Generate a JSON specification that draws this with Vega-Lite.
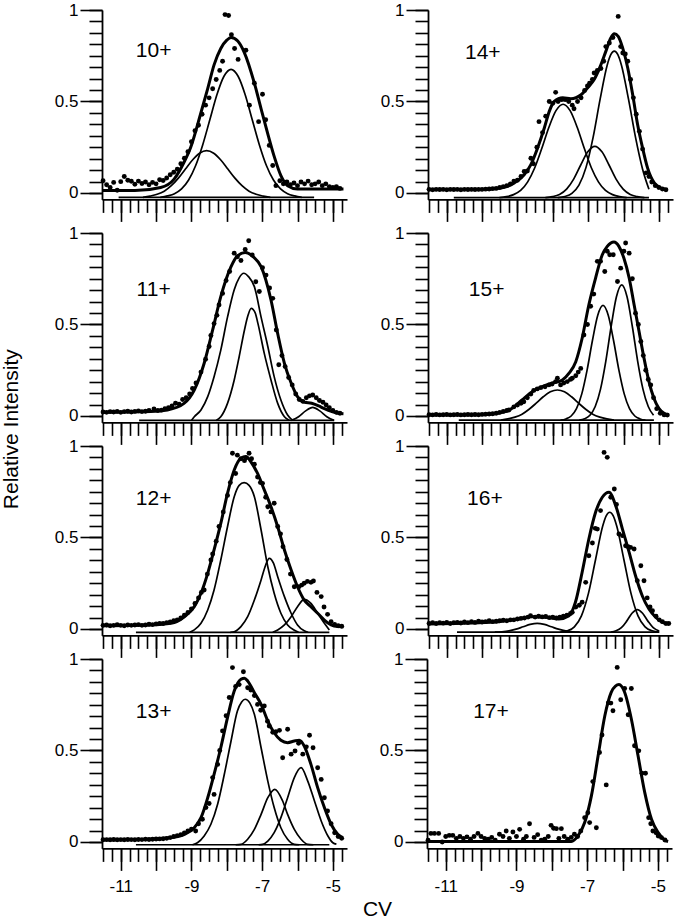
{
"$schema": "https://vega.github.io/schema/vega-lite/v6.json",
"background": "white",
"padding": {"left": 1, "top": 1, "right": 0, "bottom": 0},
"title": {"text": "Relative Intensity", "orient": "left", "anchor": "middle", "fontSize": 21, "fontWeight": "normal", "font": "Liberation Sans", "color": "black", "offset": 32, "dx": 31},
"config": {
  "view": {"stroke": null},
  "font": "Liberation Sans",
  "axis": {"domainColor": "black", "tickColor": "black", "labelColor": "black", "titleColor": "black", "grid": false, "labelFontSize": 17, "labelFont": "Liberation Sans", "titleFont": "Liberation Sans", "titleFontWeight": "normal", "titleFontSize": 21, "tickWidth": 1.6, "domainWidth": 1.8, "labelFlush": false}
},
"datasets": {
"pts": [
{"p":"10+","x":-11.5,"y":0.067},{"p":"10+","x":-11.4,"y":0.045},{"p":"10+","x":-11.3,"y":0.03},{"p":"10+","x":-11.2,"y":0.058},{"p":"10+","x":-11.1,"y":0.015},{"p":"10+","x":-11.0,"y":0.062},{"p":"10+","x":-10.9,"y":0.09},{"p":"10+","x":-10.8,"y":0.07},{"p":"10+","x":-10.7,"y":0.064},{"p":"10+","x":-10.6,"y":0.048},{"p":"10+","x":-10.5,"y":0.065},{"p":"10+","x":-10.4,"y":0.052},{"p":"10+","x":-10.3,"y":0.06},{"p":"10+","x":-10.2,"y":0.045},{"p":"10+","x":-10.1,"y":0.058},{"p":"10+","x":-10.0,"y":0.05},{"p":"10+","x":-9.9,"y":0.072},{"p":"10+","x":-9.8,"y":0.068},{"p":"10+","x":-9.7,"y":0.082},{"p":"10+","x":-9.6,"y":0.1},{"p":"10+","x":-9.5,"y":0.113},{"p":"10+","x":-9.4,"y":0.13},{"p":"10+","x":-9.3,"y":0.16},{"p":"10+","x":-9.2,"y":0.19},{"p":"10+","x":-9.1,"y":0.225},{"p":"10+","x":-9.0,"y":0.28},{"p":"10+","x":-8.9,"y":0.34},{"p":"10+","x":-8.8,"y":0.37},{"p":"10+","x":-8.7,"y":0.43},{"p":"10+","x":-8.6,"y":0.48},{"p":"10+","x":-8.5,"y":0.52},{"p":"10+","x":-8.4,"y":0.57},{"p":"10+","x":-8.3,"y":0.62},{"p":"10+","x":-8.2,"y":0.67},{"p":"10+","x":-8.12,"y":0.72},{"p":"10+","x":-8.05,"y":0.975},{"p":"10+","x":-7.95,"y":0.97},{"p":"10+","x":-7.87,"y":0.865},{"p":"10+","x":-7.78,"y":0.79},{"p":"10+","x":-7.68,"y":0.73},{"p":"10+","x":-7.46,"y":0.78},{"p":"10+","x":-7.36,"y":0.48},{"p":"10+","x":-7.22,"y":0.6},{"p":"10+","x":-7.1,"y":0.39},{"p":"10+","x":-6.99,"y":0.54},{"p":"10+","x":-6.9,"y":0.4},{"p":"10+","x":-6.8,"y":0.26},{"p":"10+","x":-6.7,"y":0.15},{"p":"10+","x":-6.61,"y":0.04},{"p":"10+","x":-6.5,"y":0.067},{"p":"10+","x":-6.4,"y":0.05},{"p":"10+","x":-6.3,"y":0.06},{"p":"10+","x":-6.2,"y":0.045},{"p":"10+","x":-6.1,"y":0.055},{"p":"10+","x":-6.0,"y":0.04},{"p":"10+","x":-5.9,"y":0.06},{"p":"10+","x":-5.8,"y":0.05},{"p":"10+","x":-5.7,"y":0.065},{"p":"10+","x":-5.6,"y":0.045},{"p":"10+","x":-5.5,"y":0.05},{"p":"10+","x":-5.4,"y":0.06},{"p":"10+","x":-5.3,"y":0.04},{"p":"10+","x":-5.2,"y":0.05},{"p":"10+","x":-5.1,"y":0.035},{"p":"10+","x":-5.0,"y":0.03},{"p":"10+","x":-4.9,"y":0.035},{"p":"10+","x":-4.8,"y":0.025},
{"p":"11+","x":-11.5,"y":0.022},{"p":"11+","x":-11.4,"y":0.02},{"p":"11+","x":-11.3,"y":0.024},{"p":"11+","x":-11.2,"y":0.022},{"p":"11+","x":-11.1,"y":0.025},{"p":"11+","x":-11.0,"y":0.02},{"p":"11+","x":-10.9,"y":0.024},{"p":"11+","x":-10.8,"y":0.026},{"p":"11+","x":-10.7,"y":0.022},{"p":"11+","x":-10.6,"y":0.025},{"p":"11+","x":-10.5,"y":0.028},{"p":"11+","x":-10.4,"y":0.024},{"p":"11+","x":-10.3,"y":0.026},{"p":"11+","x":-10.2,"y":0.03},{"p":"11+","x":-10.06,"y":0.038},{"p":"11+","x":-9.95,"y":0.03},{"p":"11+","x":-9.85,"y":0.032},{"p":"11+","x":-9.75,"y":0.04},{"p":"11+","x":-9.65,"y":0.045},{"p":"11+","x":-9.55,"y":0.055},{"p":"11+","x":-9.45,"y":0.07},{"p":"11+","x":-9.35,"y":0.065},{"p":"11+","x":-9.25,"y":0.09},{"p":"11+","x":-9.15,"y":0.1},{"p":"11+","x":-9.05,"y":0.12},{"p":"11+","x":-8.97,"y":0.15},{"p":"11+","x":-8.87,"y":0.18},{"p":"11+","x":-8.73,"y":0.24},{"p":"11+","x":-8.6,"y":0.31},{"p":"11+","x":-8.5,"y":0.38},{"p":"11+","x":-8.45,"y":0.44},{"p":"11+","x":-8.36,"y":0.505},{"p":"11+","x":-8.28,"y":0.55},{"p":"11+","x":-8.22,"y":0.607},{"p":"11+","x":-8.12,"y":0.67},{"p":"11+","x":-8.02,"y":0.74},{"p":"11+","x":-7.92,"y":0.79},{"p":"11+","x":-7.79,"y":0.89},{"p":"11+","x":-7.7,"y":0.87},{"p":"11+","x":-7.6,"y":0.85},{"p":"11+","x":-7.48,"y":0.91},{"p":"11+","x":-7.38,"y":0.958},{"p":"11+","x":-7.28,"y":0.88},{"p":"11+","x":-7.18,"y":0.734},{"p":"11+","x":-7.08,"y":0.68},{"p":"11+","x":-6.99,"y":0.81},{"p":"11+","x":-6.89,"y":0.77},{"p":"11+","x":-6.79,"y":0.7},{"p":"11+","x":-6.7,"y":0.643},{"p":"11+","x":-6.6,"y":0.47},{"p":"11+","x":-6.53,"y":0.28},{"p":"11+","x":-6.44,"y":0.33},{"p":"11+","x":-6.35,"y":0.27},{"p":"11+","x":-6.25,"y":0.21},{"p":"11+","x":-6.15,"y":0.17},{"p":"11+","x":-6.05,"y":0.12},{"p":"11+","x":-5.95,"y":0.09},{"p":"11+","x":-5.85,"y":0.08},{"p":"11+","x":-5.75,"y":0.1},{"p":"11+","x":-5.66,"y":0.11},{"p":"11+","x":-5.57,"y":0.115},{"p":"11+","x":-5.47,"y":0.1},{"p":"11+","x":-5.38,"y":0.085},{"p":"11+","x":-5.28,"y":0.075},{"p":"11+","x":-5.19,"y":0.06},{"p":"11+","x":-5.1,"y":0.045},{"p":"11+","x":-5.0,"y":0.03},{"p":"11+","x":-4.9,"y":0.02},{"p":"11+","x":-4.8,"y":0.015},
{"p":"12+","x":-11.5,"y":0.02},{"p":"12+","x":-11.4,"y":0.022},{"p":"12+","x":-11.3,"y":0.018},{"p":"12+","x":-11.2,"y":0.02},{"p":"12+","x":-11.1,"y":0.024},{"p":"12+","x":-11.0,"y":0.02},{"p":"12+","x":-10.9,"y":0.018},{"p":"12+","x":-10.8,"y":0.022},{"p":"12+","x":-10.7,"y":0.02},{"p":"12+","x":-10.6,"y":0.022},{"p":"12+","x":-10.5,"y":0.024},{"p":"12+","x":-10.4,"y":0.02},{"p":"12+","x":-10.3,"y":0.022},{"p":"12+","x":-10.2,"y":0.026},{"p":"12+","x":-10.1,"y":0.024},{"p":"12+","x":-10.0,"y":0.028},{"p":"12+","x":-9.9,"y":0.03},{"p":"12+","x":-9.8,"y":0.03},{"p":"12+","x":-9.7,"y":0.035},{"p":"12+","x":-9.6,"y":0.038},{"p":"12+","x":-9.5,"y":0.045},{"p":"12+","x":-9.4,"y":0.05},{"p":"12+","x":-9.3,"y":0.06},{"p":"12+","x":-9.2,"y":0.075},{"p":"12+","x":-9.1,"y":0.09},{"p":"12+","x":-9.0,"y":0.11},{"p":"12+","x":-8.9,"y":0.14},{"p":"12+","x":-8.8,"y":0.17},{"p":"12+","x":-8.72,"y":0.2},{"p":"12+","x":-8.64,"y":0.213},{"p":"12+","x":-8.55,"y":0.3},{"p":"12+","x":-8.45,"y":0.377},{"p":"12+","x":-8.4,"y":0.41},{"p":"12+","x":-8.3,"y":0.48},{"p":"12+","x":-8.22,"y":0.56},{"p":"12+","x":-8.1,"y":0.64},{"p":"12+","x":-7.98,"y":0.73},{"p":"12+","x":-7.9,"y":0.8},{"p":"12+","x":-7.84,"y":0.96},{"p":"12+","x":-7.75,"y":0.85},{"p":"12+","x":-7.7,"y":0.95},{"p":"12+","x":-7.6,"y":0.93},{"p":"12+","x":-7.5,"y":0.92},{"p":"12+","x":-7.46,"y":0.935},{"p":"12+","x":-7.37,"y":0.96},{"p":"12+","x":-7.3,"y":0.93},{"p":"12+","x":-7.22,"y":0.9},{"p":"12+","x":-7.13,"y":0.83},{"p":"12+","x":-7.05,"y":0.8},{"p":"12+","x":-6.99,"y":0.796},{"p":"12+","x":-6.9,"y":0.72},{"p":"12+","x":-6.84,"y":0.668},{"p":"12+","x":-6.75,"y":0.64},{"p":"12+","x":-6.66,"y":0.687},{"p":"12+","x":-6.56,"y":0.56},{"p":"12+","x":-6.48,"y":0.52},{"p":"12+","x":-6.41,"y":0.45},{"p":"12+","x":-6.3,"y":0.38},{"p":"12+","x":-6.2,"y":0.3},{"p":"12+","x":-6.09,"y":0.231},{"p":"12+","x":-5.96,"y":0.231},{"p":"12+","x":-5.88,"y":0.24},{"p":"12+","x":-5.81,"y":0.25},{"p":"12+","x":-5.72,"y":0.26},{"p":"12+","x":-5.62,"y":0.255},{"p":"12+","x":-5.55,"y":0.262},{"p":"12+","x":-5.45,"y":0.2},{"p":"12+","x":-5.33,"y":0.177},{"p":"12+","x":-5.25,"y":0.12},{"p":"12+","x":-5.15,"y":0.08},{"p":"12+","x":-5.05,"y":0.04},{"p":"12+","x":-4.95,"y":0.025},{"p":"12+","x":-4.85,"y":0.018},{"p":"12+","x":-4.75,"y":0.015},
{"p":"13+","x":-11.5,"y":0.012},{"p":"13+","x":-11.4,"y":0.013},{"p":"13+","x":-11.3,"y":0.012},{"p":"13+","x":-11.2,"y":0.014},{"p":"13+","x":-11.1,"y":0.012},{"p":"13+","x":-11.0,"y":0.013},{"p":"13+","x":-10.9,"y":0.012},{"p":"13+","x":-10.8,"y":0.014},{"p":"13+","x":-10.7,"y":0.013},{"p":"13+","x":-10.6,"y":0.012},{"p":"13+","x":-10.5,"y":0.014},{"p":"13+","x":-10.4,"y":0.013},{"p":"13+","x":-10.3,"y":0.015},{"p":"13+","x":-10.2,"y":0.014},{"p":"13+","x":-10.1,"y":0.015},{"p":"13+","x":-10.0,"y":0.016},{"p":"13+","x":-9.9,"y":0.017},{"p":"13+","x":-9.8,"y":0.018},{"p":"13+","x":-9.7,"y":0.02},{"p":"13+","x":-9.6,"y":0.024},{"p":"13+","x":-9.5,"y":0.03},{"p":"13+","x":-9.4,"y":0.035},{"p":"13+","x":-9.3,"y":0.04},{"p":"13+","x":-9.2,"y":0.05},{"p":"13+","x":-9.1,"y":0.06},{"p":"13+","x":-9.0,"y":0.07},{"p":"13+","x":-8.88,"y":0.06},{"p":"13+","x":-8.8,"y":0.1},{"p":"13+","x":-8.69,"y":0.124},{"p":"13+","x":-8.59,"y":0.188},{"p":"13+","x":-8.5,"y":0.21},{"p":"13+","x":-8.4,"y":0.352},{"p":"13+","x":-8.36,"y":0.26},{"p":"13+","x":-8.26,"y":0.424},{"p":"13+","x":-8.2,"y":0.5},{"p":"13+","x":-8.12,"y":0.607},{"p":"13+","x":-8.02,"y":0.69},{"p":"13+","x":-7.93,"y":0.79},{"p":"13+","x":-7.84,"y":0.953},{"p":"13+","x":-7.75,"y":0.85},{"p":"13+","x":-7.65,"y":0.86},{"p":"13+","x":-7.53,"y":0.93},{"p":"13+","x":-7.41,"y":0.843},{"p":"13+","x":-7.32,"y":0.83},{"p":"13+","x":-7.22,"y":0.8},{"p":"13+","x":-7.13,"y":0.752},{"p":"13+","x":-7.04,"y":0.72},{"p":"13+","x":-6.94,"y":0.743},{"p":"13+","x":-6.85,"y":0.66},{"p":"13+","x":-6.8,"y":0.634},{"p":"13+","x":-6.7,"y":0.6},{"p":"13+","x":-6.61,"y":0.603},{"p":"13+","x":-6.51,"y":0.61},{"p":"13+","x":-6.42,"y":0.46},{"p":"13+","x":-6.28,"y":0.616},{"p":"13+","x":-6.18,"y":0.48},{"p":"13+","x":-6.07,"y":0.497},{"p":"13+","x":-5.97,"y":0.54},{"p":"13+","x":-5.85,"y":0.48},{"p":"13+","x":-5.75,"y":0.52},{"p":"13+","x":-5.66,"y":0.583},{"p":"13+","x":-5.56,"y":0.515},{"p":"13+","x":-5.43,"y":0.406},{"p":"13+","x":-5.33,"y":0.342},{"p":"13+","x":-5.24,"y":0.242},{"p":"13+","x":-5.15,"y":0.17},{"p":"13+","x":-5.05,"y":0.1},{"p":"13+","x":-4.95,"y":0.05},{"p":"13+","x":-4.85,"y":0.03},{"p":"13+","x":-4.75,"y":0.02},
{"p":"14+","x":-11.5,"y":0.02},{"p":"14+","x":-11.4,"y":0.018},{"p":"14+","x":-11.3,"y":0.02},{"p":"14+","x":-11.2,"y":0.019},{"p":"14+","x":-11.1,"y":0.02},{"p":"14+","x":-11.0,"y":0.018},{"p":"14+","x":-10.9,"y":0.02},{"p":"14+","x":-10.8,"y":0.019},{"p":"14+","x":-10.7,"y":0.02},{"p":"14+","x":-10.6,"y":0.018},{"p":"14+","x":-10.5,"y":0.02},{"p":"14+","x":-10.4,"y":0.019},{"p":"14+","x":-10.3,"y":0.02},{"p":"14+","x":-10.2,"y":0.019},{"p":"14+","x":-10.1,"y":0.02},{"p":"14+","x":-10.0,"y":0.02},{"p":"14+","x":-9.9,"y":0.021},{"p":"14+","x":-9.8,"y":0.022},{"p":"14+","x":-9.7,"y":0.024},{"p":"14+","x":-9.6,"y":0.025},{"p":"14+","x":-9.5,"y":0.03},{"p":"14+","x":-9.4,"y":0.035},{"p":"14+","x":-9.3,"y":0.04},{"p":"14+","x":-9.2,"y":0.05},{"p":"14+","x":-9.1,"y":0.065},{"p":"14+","x":-9.0,"y":0.07},{"p":"14+","x":-8.9,"y":0.09},{"p":"14+","x":-8.81,"y":0.118},{"p":"14+","x":-8.72,"y":0.12},{"p":"14+","x":-8.62,"y":0.19},{"p":"14+","x":-8.55,"y":0.16},{"p":"14+","x":-8.45,"y":0.25},{"p":"14+","x":-8.39,"y":0.39},{"p":"14+","x":-8.29,"y":0.33},{"p":"14+","x":-8.2,"y":0.42},{"p":"14+","x":-8.1,"y":0.5},{"p":"14+","x":-8.0,"y":0.49},{"p":"14+","x":-7.92,"y":0.55},{"p":"14+","x":-7.85,"y":0.5},{"p":"14+","x":-7.75,"y":0.51},{"p":"14+","x":-7.65,"y":0.51},{"p":"14+","x":-7.55,"y":0.5},{"p":"14+","x":-7.45,"y":0.48},{"p":"14+","x":-7.4,"y":0.46},{"p":"14+","x":-7.3,"y":0.5},{"p":"14+","x":-7.2,"y":0.52},{"p":"14+","x":-7.1,"y":0.56},{"p":"14+","x":-7.02,"y":0.585},{"p":"14+","x":-6.96,"y":0.6},{"p":"14+","x":-6.88,"y":0.62},{"p":"14+","x":-6.83,"y":0.656},{"p":"14+","x":-6.74,"y":0.67},{"p":"14+","x":-6.64,"y":0.68},{"p":"14+","x":-6.56,"y":0.72},{"p":"14+","x":-6.5,"y":0.8},{"p":"14+","x":-6.4,"y":0.82},{"p":"14+","x":-6.3,"y":0.85},{"p":"14+","x":-6.15,"y":0.965},{"p":"14+","x":-6.08,"y":0.8},{"p":"14+","x":-6.02,"y":0.765},{"p":"14+","x":-5.95,"y":0.76},{"p":"14+","x":-5.88,"y":0.72},{"p":"14+","x":-5.8,"y":0.62},{"p":"14+","x":-5.72,"y":0.52},{"p":"14+","x":-5.64,"y":0.43},{"p":"14+","x":-5.55,"y":0.337},{"p":"14+","x":-5.46,"y":0.24},{"p":"14+","x":-5.36,"y":0.11},{"p":"14+","x":-5.28,"y":0.09},{"p":"14+","x":-5.2,"y":0.06},{"p":"14+","x":-5.1,"y":0.04},{"p":"14+","x":-5.0,"y":0.03},{"p":"14+","x":-4.9,"y":0.022},{"p":"14+","x":-4.8,"y":0.018},
{"p":"15+","x":-11.5,"y":0.007},{"p":"15+","x":-11.4,"y":0.006},{"p":"15+","x":-11.3,"y":0.008},{"p":"15+","x":-11.2,"y":0.006},{"p":"15+","x":-11.1,"y":0.007},{"p":"15+","x":-11.0,"y":0.008},{"p":"15+","x":-10.9,"y":0.006},{"p":"15+","x":-10.8,"y":0.007},{"p":"15+","x":-10.7,"y":0.008},{"p":"15+","x":-10.6,"y":0.006},{"p":"15+","x":-10.5,"y":0.007},{"p":"15+","x":-10.4,"y":0.008},{"p":"15+","x":-10.3,"y":0.007},{"p":"15+","x":-10.2,"y":0.008},{"p":"15+","x":-10.1,"y":0.007},{"p":"15+","x":-10.0,"y":0.009},{"p":"15+","x":-9.9,"y":0.01},{"p":"15+","x":-9.8,"y":0.011},{"p":"15+","x":-9.7,"y":0.012},{"p":"15+","x":-9.6,"y":0.015},{"p":"15+","x":-9.5,"y":0.02},{"p":"15+","x":-9.4,"y":0.025},{"p":"15+","x":-9.3,"y":0.03},{"p":"15+","x":-9.24,"y":0.033},{"p":"15+","x":-9.1,"y":0.05},{"p":"15+","x":-9.0,"y":0.06},{"p":"15+","x":-8.9,"y":0.07},{"p":"15+","x":-8.82,"y":0.078},{"p":"15+","x":-8.72,"y":0.1},{"p":"15+","x":-8.62,"y":0.12},{"p":"15+","x":-8.54,"y":0.14},{"p":"15+","x":-8.44,"y":0.148},{"p":"15+","x":-8.34,"y":0.155},{"p":"15+","x":-8.22,"y":0.16},{"p":"15+","x":-8.11,"y":0.17},{"p":"15+","x":-8.02,"y":0.175},{"p":"15+","x":-7.92,"y":0.188},{"p":"15+","x":-7.87,"y":0.206},{"p":"15+","x":-7.78,"y":0.17},{"p":"15+","x":-7.69,"y":0.18},{"p":"15+","x":-7.59,"y":0.188},{"p":"15+","x":-7.5,"y":0.2},{"p":"15+","x":-7.45,"y":0.206},{"p":"15+","x":-7.35,"y":0.22},{"p":"15+","x":-7.28,"y":0.24},{"p":"15+","x":-7.21,"y":0.26},{"p":"15+","x":-7.12,"y":0.443},{"p":"15+","x":-7.02,"y":0.5},{"p":"15+","x":-6.93,"y":0.6},{"p":"15+","x":-6.84,"y":0.666},{"p":"15+","x":-6.74,"y":0.845},{"p":"15+","x":-6.65,"y":0.845},{"p":"15+","x":-6.53,"y":0.79},{"p":"15+","x":-6.46,"y":0.9},{"p":"15+","x":-6.39,"y":0.881},{"p":"15+","x":-6.29,"y":0.881},{"p":"15+","x":-6.17,"y":0.735},{"p":"15+","x":-6.08,"y":0.808},{"p":"15+","x":-5.99,"y":0.9},{"p":"15+","x":-5.94,"y":0.945},{"p":"15+","x":-5.84,"y":0.89},{"p":"15+","x":-5.75,"y":0.75},{"p":"15+","x":-5.66,"y":0.562},{"p":"15+","x":-5.58,"y":0.5},{"p":"15+","x":-5.51,"y":0.407},{"p":"15+","x":-5.44,"y":0.33},{"p":"15+","x":-5.37,"y":0.25},{"p":"15+","x":-5.3,"y":0.2},{"p":"15+","x":-5.23,"y":0.17},{"p":"15+","x":-5.15,"y":0.1},{"p":"15+","x":-5.06,"y":0.04},{"p":"15+","x":-4.96,"y":0.015},{"p":"15+","x":-4.85,"y":0.006},{"p":"15+","x":-4.76,"y":0.005},
{"p":"16+","x":-11.5,"y":0.03},{"p":"16+","x":-11.4,"y":0.035},{"p":"16+","x":-11.3,"y":0.03},{"p":"16+","x":-11.2,"y":0.035},{"p":"16+","x":-11.1,"y":0.032},{"p":"16+","x":-11.0,"y":0.036},{"p":"16+","x":-10.9,"y":0.03},{"p":"16+","x":-10.8,"y":0.034},{"p":"16+","x":-10.7,"y":0.036},{"p":"16+","x":-10.6,"y":0.033},{"p":"16+","x":-10.5,"y":0.038},{"p":"16+","x":-10.4,"y":0.035},{"p":"16+","x":-10.3,"y":0.04},{"p":"16+","x":-10.2,"y":0.036},{"p":"16+","x":-10.1,"y":0.042},{"p":"16+","x":-10.0,"y":0.038},{"p":"16+","x":-9.9,"y":0.04},{"p":"16+","x":-9.8,"y":0.045},{"p":"16+","x":-9.7,"y":0.04},{"p":"16+","x":-9.6,"y":0.042},{"p":"16+","x":-9.5,"y":0.045},{"p":"16+","x":-9.4,"y":0.048},{"p":"16+","x":-9.3,"y":0.045},{"p":"16+","x":-9.2,"y":0.05},{"p":"16+","x":-9.1,"y":0.05},{"p":"16+","x":-9.0,"y":0.055},{"p":"16+","x":-8.9,"y":0.058},{"p":"16+","x":-8.8,"y":0.06},{"p":"16+","x":-8.7,"y":0.065},{"p":"16+","x":-8.63,"y":0.073},{"p":"16+","x":-8.5,"y":0.065},{"p":"16+","x":-8.4,"y":0.07},{"p":"16+","x":-8.3,"y":0.066},{"p":"16+","x":-8.2,"y":0.068},{"p":"16+","x":-8.1,"y":0.062},{"p":"16+","x":-8.0,"y":0.065},{"p":"16+","x":-7.9,"y":0.06},{"p":"16+","x":-7.8,"y":0.065},{"p":"16+","x":-7.7,"y":0.07},{"p":"16+","x":-7.6,"y":0.075},{"p":"16+","x":-7.5,"y":0.085},{"p":"16+","x":-7.45,"y":0.091},{"p":"16+","x":-7.35,"y":0.12},{"p":"16+","x":-7.25,"y":0.13},{"p":"16+","x":-7.17,"y":0.146},{"p":"16+","x":-7.07,"y":0.255},{"p":"16+","x":-6.98,"y":0.4},{"p":"16+","x":-6.88,"y":0.47},{"p":"16+","x":-6.8,"y":0.55},{"p":"16+","x":-6.74,"y":0.546},{"p":"16+","x":-6.65,"y":0.647},{"p":"16+","x":-6.55,"y":0.965},{"p":"16+","x":-6.46,"y":0.938},{"p":"16+","x":-6.36,"y":0.72},{"p":"16+","x":-6.26,"y":0.765},{"p":"16+","x":-6.2,"y":0.68},{"p":"16+","x":-6.13,"y":0.519},{"p":"16+","x":-6.03,"y":0.51},{"p":"16+","x":-5.94,"y":0.455},{"p":"16+","x":-5.87,"y":0.45},{"p":"16+","x":-5.8,"y":0.446},{"p":"16+","x":-5.7,"y":0.437},{"p":"16+","x":-5.61,"y":0.264},{"p":"16+","x":-5.51,"y":0.346},{"p":"16+","x":-5.42,"y":0.264},{"p":"16+","x":-5.33,"y":0.17},{"p":"16+","x":-5.25,"y":0.12},{"p":"16+","x":-5.18,"y":0.1},{"p":"16+","x":-5.08,"y":0.07},{"p":"16+","x":-4.99,"y":0.05},{"p":"16+","x":-4.9,"y":0.04},{"p":"16+","x":-4.8,"y":0.03},{"p":"16+","x":-4.72,"y":0.03},
{"p":"17+","x":-11.5,"y":0.01},{"p":"17+","x":-11.42,"y":0.047},{"p":"17+","x":-11.32,"y":0.047},{"p":"17+","x":-11.2,"y":0.047},{"p":"17+","x":-11.1,"y":0.0},{"p":"17+","x":-11.0,"y":0.03},{"p":"17+","x":-10.9,"y":0.036},{"p":"17+","x":-10.8,"y":0.036},{"p":"17+","x":-10.7,"y":0.02},{"p":"17+","x":-10.6,"y":0.03},{"p":"17+","x":-10.5,"y":0.02},{"p":"17+","x":-10.4,"y":0.028},{"p":"17+","x":-10.3,"y":0.015},{"p":"17+","x":-10.2,"y":0.03},{"p":"17+","x":-10.09,"y":0.047},{"p":"17+","x":-10.0,"y":0.03},{"p":"17+","x":-9.9,"y":0.02},{"p":"17+","x":-9.8,"y":0.015},{"p":"17+","x":-9.7,"y":0.025},{"p":"17+","x":-9.6,"y":0.01},{"p":"17+","x":-9.48,"y":0.042},{"p":"17+","x":-9.38,"y":0.03},{"p":"17+","x":-9.29,"y":0.06},{"p":"17+","x":-9.2,"y":0.02},{"p":"17+","x":-9.1,"y":0.055},{"p":"17+","x":-9.0,"y":0.03},{"p":"17+","x":-8.91,"y":0.069},{"p":"17+","x":-8.8,"y":0.015},{"p":"17+","x":-8.72,"y":0.03},{"p":"17+","x":-8.63,"y":0.1},{"p":"17+","x":-8.5,"y":0.025},{"p":"17+","x":-8.4,"y":0.04},{"p":"17+","x":-8.3,"y":0.01},{"p":"17+","x":-8.2,"y":0.015},{"p":"17+","x":-8.1,"y":0.03},{"p":"17+","x":-8.02,"y":0.091},{"p":"17+","x":-7.95,"y":0.075},{"p":"17+","x":-7.87,"y":0.073},{"p":"17+","x":-7.8,"y":0.02},{"p":"17+","x":-7.73,"y":0.073},{"p":"17+","x":-7.65,"y":0.03},{"p":"17+","x":-7.55,"y":0.015},{"p":"17+","x":-7.45,"y":0.025},{"p":"17+","x":-7.36,"y":0.042},{"p":"17+","x":-7.27,"y":0.03},{"p":"17+","x":-7.18,"y":0.06},{"p":"17+","x":-7.07,"y":0.133},{"p":"17+","x":-6.98,"y":0.16},{"p":"17+","x":-6.93,"y":0.106},{"p":"17+","x":-6.84,"y":0.33},{"p":"17+","x":-6.74,"y":0.078},{"p":"17+","x":-6.65,"y":0.489},{"p":"17+","x":-6.58,"y":0.585},{"p":"17+","x":-6.46,"y":0.312},{"p":"17+","x":-6.4,"y":0.76},{"p":"17+","x":-6.33,"y":0.759},{"p":"17+","x":-6.27,"y":0.717},{"p":"17+","x":-6.15,"y":0.954},{"p":"17+","x":-6.05,"y":0.777},{"p":"17+","x":-5.94,"y":0.839},{"p":"17+","x":-5.84,"y":0.695},{"p":"17+","x":-5.75,"y":0.839},{"p":"17+","x":-5.66,"y":0.526},{"p":"17+","x":-5.54,"y":0.498},{"p":"17+","x":-5.45,"y":0.376},{"p":"17+","x":-5.35,"y":0.376},{"p":"17+","x":-5.26,"y":0.133},{"p":"17+","x":-5.2,"y":0.1},{"p":"17+","x":-5.14,"y":0.06},{"p":"17+","x":-5.05,"y":0.05},{"p":"17+","x":-4.99,"y":0.033},{"p":"17+","x":-4.9,"y":0.024},{"p":"17+","x":-4.8,"y":0.011}
],
"crv": [
{"p":"10+","s":"f","x":-11.53,"y":0.013},{"p":"10+","s":"f","x":-10.6,"y":0.013},{"p":"10+","s":"f","x":-9.87,"y":0.03},{"p":"10+","s":"f","x":-9.49,"y":0.076},{"p":"10+","s":"f","x":-9.21,"y":0.168},{"p":"10+","s":"f","x":-9.02,"y":0.25},{"p":"10+","s":"f","x":-8.73,"y":0.44},{"p":"10+","s":"f","x":-8.54,"y":0.57},{"p":"10+","s":"f","x":-8.36,"y":0.7},{"p":"10+","s":"f","x":-8.17,"y":0.79},{"p":"10+","s":"f","x":-8.0,"y":0.835},{"p":"10+","s":"f","x":-7.88,"y":0.85},{"p":"10+","s":"f","x":-7.69,"y":0.83},{"p":"10+","s":"f","x":-7.51,"y":0.77},{"p":"10+","s":"f","x":-7.22,"y":0.6},{"p":"10+","s":"f","x":-7.03,"y":0.46},{"p":"10+","s":"f","x":-6.85,"y":0.33},{"p":"10+","s":"f","x":-6.66,"y":0.2},{"p":"10+","s":"f","x":-6.47,"y":0.095},{"p":"10+","s":"f","x":-6.28,"y":0.04},{"p":"10+","s":"f","x":-6.0,"y":0.022},{"p":"10+","s":"f","x":-4.7,"y":0.022},
{"p":"10+","s":"a","x":-9.88,"y":-0.024},{"p":"10+","s":"a","x":-9.68,"y":-0.016},{"p":"10+","s":"a","x":-9.48,"y":-0.004},{"p":"10+","s":"a","x":-9.28,"y":0.022},{"p":"10+","s":"a","x":-9.08,"y":0.071},{"p":"10+","s":"a","x":-8.88,"y":0.15},{"p":"10+","s":"a","x":-8.68,"y":0.264},{"p":"10+","s":"a","x":-8.48,"y":0.4},{"p":"10+","s":"a","x":-8.28,"y":0.537},{"p":"10+","s":"a","x":-8.08,"y":0.638},{"p":"10+","s":"a","x":-7.88,"y":0.676},{"p":"10+","s":"a","x":-7.68,"y":0.638},{"p":"10+","s":"a","x":-7.48,"y":0.537},{"p":"10+","s":"a","x":-7.28,"y":0.4},{"p":"10+","s":"a","x":-7.08,"y":0.264},{"p":"10+","s":"a","x":-6.88,"y":0.15},{"p":"10+","s":"a","x":-6.68,"y":0.071},{"p":"10+","s":"a","x":-6.48,"y":0.022},{"p":"10+","s":"a","x":-6.28,"y":-0.004},{"p":"10+","s":"a","x":-6.08,"y":-0.016},{"p":"10+","s":"a","x":-5.88,"y":-0.024},
{"p":"10+","s":"b","x":-10.37,"y":-0.024},{"p":"10+","s":"b","x":-10.17,"y":-0.017},{"p":"10+","s":"b","x":-9.97,"y":-0.007},{"p":"10+","s":"b","x":-9.77,"y":0.01},{"p":"10+","s":"b","x":-9.57,"y":0.04},{"p":"10+","s":"b","x":-9.37,"y":0.081},{"p":"10+","s":"b","x":-9.17,"y":0.131},{"p":"10+","s":"b","x":-8.97,"y":0.18},{"p":"10+","s":"b","x":-8.77,"y":0.217},{"p":"10+","s":"b","x":-8.57,"y":0.231},{"p":"10+","s":"b","x":-8.37,"y":0.217},{"p":"10+","s":"b","x":-8.17,"y":0.18},{"p":"10+","s":"b","x":-7.97,"y":0.131},{"p":"10+","s":"b","x":-7.77,"y":0.081},{"p":"10+","s":"b","x":-7.57,"y":0.04},{"p":"10+","s":"b","x":-7.37,"y":0.01},{"p":"10+","s":"b","x":-7.17,"y":-0.007},{"p":"10+","s":"b","x":-6.97,"y":-0.017},{"p":"10+","s":"b","x":-6.77,"y":-0.024},
{"p":"10+","s":"base","x":-11.06,"y":-0.024},{"p":"10+","s":"base","x":-5.53,"y":-0.024},
{"p":"11+","s":"f","x":-11.53,"y":0.02},{"p":"11+","s":"f","x":-10.15,"y":0.024},{"p":"11+","s":"f","x":-9.68,"y":0.033},{"p":"11+","s":"f","x":-9.21,"y":0.069},{"p":"11+","s":"f","x":-8.92,"y":0.142},{"p":"11+","s":"f","x":-8.64,"y":0.288},{"p":"11+","s":"f","x":-8.4,"y":0.47},{"p":"11+","s":"f","x":-8.17,"y":0.652},{"p":"11+","s":"f","x":-7.88,"y":0.816},{"p":"11+","s":"f","x":-7.7,"y":0.875},{"p":"11+","s":"f","x":-7.48,"y":0.893},{"p":"11+","s":"f","x":-7.25,"y":0.87},{"p":"11+","s":"f","x":-7.03,"y":0.816},{"p":"11+","s":"f","x":-6.75,"y":0.634},{"p":"11+","s":"f","x":-6.56,"y":0.45},{"p":"11+","s":"f","x":-6.37,"y":0.288},{"p":"11+","s":"f","x":-6.18,"y":0.18},{"p":"11+","s":"f","x":-6.0,"y":0.106},{"p":"11+","s":"f","x":-5.8,"y":0.075},{"p":"11+","s":"f","x":-5.6,"y":0.07},{"p":"11+","s":"f","x":-5.4,"y":0.055},{"p":"11+","s":"f","x":-5.24,"y":0.04},{"p":"11+","s":"f","x":-4.86,"y":0.015},{"p":"11+","s":"f","x":-4.7,"y":0.012},
{"p":"11+","s":"a","x":-9.0,"y":-0.024},{"p":"11+","s":"a","x":-8.92,"y":-0.004},{"p":"11+","s":"a","x":-8.73,"y":0.033},{"p":"11+","s":"a","x":-8.54,"y":0.106},{"p":"11+","s":"a","x":-8.36,"y":0.215},{"p":"11+","s":"a","x":-8.17,"y":0.36},{"p":"11+","s":"a","x":-7.98,"y":0.54},{"p":"11+","s":"a","x":-7.79,"y":0.69},{"p":"11+","s":"a","x":-7.65,"y":0.755},{"p":"11+","s":"a","x":-7.52,"y":0.78},{"p":"11+","s":"a","x":-7.38,"y":0.76},{"p":"11+","s":"a","x":-7.22,"y":0.707},{"p":"11+","s":"a","x":-7.03,"y":0.54},{"p":"11+","s":"a","x":-6.84,"y":0.38},{"p":"11+","s":"a","x":-6.66,"y":0.215},{"p":"11+","s":"a","x":-6.47,"y":0.087},{"p":"11+","s":"a","x":-6.28,"y":0.005},{"p":"11+","s":"a","x":-6.14,"y":-0.024},
{"p":"11+","s":"b","x":-8.3,"y":-0.024},{"p":"11+","s":"b","x":-8.17,"y":-0.004},{"p":"11+","s":"b","x":-7.98,"y":0.069},{"p":"11+","s":"b","x":-7.79,"y":0.197},{"p":"11+","s":"b","x":-7.65,"y":0.324},{"p":"11+","s":"b","x":-7.5,"y":0.47},{"p":"11+","s":"b","x":-7.4,"y":0.55},{"p":"11+","s":"b","x":-7.31,"y":0.588},{"p":"11+","s":"b","x":-7.2,"y":0.565},{"p":"11+","s":"b","x":-7.12,"y":0.506},{"p":"11+","s":"b","x":-6.94,"y":0.342},{"p":"11+","s":"b","x":-6.75,"y":0.197},{"p":"11+","s":"b","x":-6.56,"y":0.069},{"p":"11+","s":"b","x":-6.37,"y":-0.004},{"p":"11+","s":"b","x":-6.23,"y":-0.024},
{"p":"11+","s":"c","x":-6.17,"y":-0.024},{"p":"11+","s":"c","x":-5.97,"y":-0.004},{"p":"11+","s":"c","x":-5.77,"y":0.028},{"p":"11+","s":"c","x":-5.57,"y":0.047},{"p":"11+","s":"c","x":-5.37,"y":0.028},{"p":"11+","s":"c","x":-5.17,"y":-0.004},{"p":"11+","s":"c","x":-4.97,"y":-0.024},
{"p":"11+","s":"base","x":-10.48,"y":-0.024},{"p":"11+","s":"base","x":-4.96,"y":-0.024},
{"p":"12+","s":"f","x":-11.53,"y":0.018},{"p":"12+","s":"f","x":-10.15,"y":0.022},{"p":"12+","s":"f","x":-9.58,"y":0.031},{"p":"12+","s":"f","x":-9.2,"y":0.067},{"p":"12+","s":"f","x":-8.92,"y":0.122},{"p":"12+","s":"f","x":-8.73,"y":0.195},{"p":"12+","s":"f","x":-8.54,"y":0.304},{"p":"12+","s":"f","x":-8.36,"y":0.432},{"p":"12+","s":"f","x":-8.17,"y":0.577},{"p":"12+","s":"f","x":-7.98,"y":0.741},{"p":"12+","s":"f","x":-7.79,"y":0.869},{"p":"12+","s":"f","x":-7.6,"y":0.933},{"p":"12+","s":"f","x":-7.46,"y":0.942},{"p":"12+","s":"f","x":-7.32,"y":0.914},{"p":"12+","s":"f","x":-7.13,"y":0.85},{"p":"12+","s":"f","x":-6.94,"y":0.76},{"p":"12+","s":"f","x":-6.75,"y":0.668},{"p":"12+","s":"f","x":-6.56,"y":0.559},{"p":"12+","s":"f","x":-6.37,"y":0.432},{"p":"12+","s":"f","x":-6.18,"y":0.322},{"p":"12+","s":"f","x":-6.0,"y":0.231},{"p":"12+","s":"f","x":-5.81,"y":0.158},{"p":"12+","s":"f","x":-5.62,"y":0.122},{"p":"12+","s":"f","x":-5.43,"y":0.086},{"p":"12+","s":"f","x":-5.24,"y":0.049},{"p":"12+","s":"f","x":-5.05,"y":0.022},{"p":"12+","s":"f","x":-4.86,"y":0.013},{"p":"12+","s":"f","x":-4.7,"y":0.012},
{"p":"12+","s":"a","x":-9.05,"y":-0.018},{"p":"12+","s":"a","x":-8.92,"y":-0.005},{"p":"12+","s":"a","x":-8.73,"y":0.031},{"p":"12+","s":"a","x":-8.54,"y":0.104},{"p":"12+","s":"a","x":-8.36,"y":0.213},{"p":"12+","s":"a","x":-8.17,"y":0.377},{"p":"12+","s":"a","x":-7.98,"y":0.559},{"p":"12+","s":"a","x":-7.79,"y":0.723},{"p":"12+","s":"a","x":-7.65,"y":0.785},{"p":"12+","s":"a","x":-7.51,"y":0.8},{"p":"12+","s":"a","x":-7.37,"y":0.785},{"p":"12+","s":"a","x":-7.22,"y":0.723},{"p":"12+","s":"a","x":-7.03,"y":0.541},{"p":"12+","s":"a","x":-6.84,"y":0.34},{"p":"12+","s":"a","x":-6.66,"y":0.195},{"p":"12+","s":"a","x":-6.47,"y":0.086},{"p":"12+","s":"a","x":-6.28,"y":0.022},{"p":"12+","s":"a","x":-6.1,"y":-0.005},{"p":"12+","s":"a","x":-5.97,"y":-0.018},
{"p":"12+","s":"b","x":-7.9,"y":-0.018},{"p":"12+","s":"b","x":-7.79,"y":-0.015},{"p":"12+","s":"b","x":-7.6,"y":0.013},{"p":"12+","s":"b","x":-7.41,"y":0.067},{"p":"12+","s":"b","x":-7.22,"y":0.158},{"p":"12+","s":"b","x":-7.03,"y":0.268},{"p":"12+","s":"b","x":-6.9,"y":0.35},{"p":"12+","s":"b","x":-6.8,"y":0.386},{"p":"12+","s":"b","x":-6.68,"y":0.36},{"p":"12+","s":"b","x":-6.56,"y":0.286},{"p":"12+","s":"b","x":-6.37,"y":0.177},{"p":"12+","s":"b","x":-6.18,"y":0.086},{"p":"12+","s":"b","x":-6.0,"y":0.022},{"p":"12+","s":"b","x":-5.81,"y":-0.01},{"p":"12+","s":"b","x":-5.7,"y":-0.018},
{"p":"12+","s":"c","x":-6.7,"y":-0.018},{"p":"12+","s":"c","x":-6.56,"y":-0.005},{"p":"12+","s":"c","x":-6.37,"y":0.022},{"p":"12+","s":"c","x":-6.18,"y":0.067},{"p":"12+","s":"c","x":-6.0,"y":0.122},{"p":"12+","s":"c","x":-5.81,"y":0.162},{"p":"12+","s":"c","x":-5.62,"y":0.14},{"p":"12+","s":"c","x":-5.43,"y":0.086},{"p":"12+","s":"c","x":-5.24,"y":0.031},{"p":"12+","s":"c","x":-5.1,"y":-0.005},
{"p":"12+","s":"base","x":-10.57,"y":-0.018},{"p":"12+","s":"base","x":-5.1,"y":-0.018},
{"p":"13+","s":"f","x":-11.53,"y":0.011},{"p":"13+","s":"f","x":-10.15,"y":0.015},{"p":"13+","s":"f","x":-9.58,"y":0.024},{"p":"13+","s":"f","x":-9.2,"y":0.042},{"p":"13+","s":"f","x":-8.92,"y":0.078},{"p":"13+","s":"f","x":-8.73,"y":0.133},{"p":"13+","s":"f","x":-8.54,"y":0.242},{"p":"13+","s":"f","x":-8.36,"y":0.37},{"p":"13+","s":"f","x":-8.17,"y":0.515},{"p":"13+","s":"f","x":-7.98,"y":0.68},{"p":"13+","s":"f","x":-7.79,"y":0.825},{"p":"13+","s":"f","x":-7.6,"y":0.889},{"p":"13+","s":"f","x":-7.5,"y":0.895},{"p":"13+","s":"f","x":-7.41,"y":0.88},{"p":"13+","s":"f","x":-7.22,"y":0.816},{"p":"13+","s":"f","x":-7.03,"y":0.752},{"p":"13+","s":"f","x":-6.84,"y":0.661},{"p":"13+","s":"f","x":-6.66,"y":0.597},{"p":"13+","s":"f","x":-6.47,"y":0.556},{"p":"13+","s":"f","x":-6.28,"y":0.543},{"p":"13+","s":"f","x":-6.09,"y":0.552},{"p":"13+","s":"f","x":-5.95,"y":0.556},{"p":"13+","s":"f","x":-5.81,"y":0.525},{"p":"13+","s":"f","x":-5.62,"y":0.424},{"p":"13+","s":"f","x":-5.43,"y":0.297},{"p":"13+","s":"f","x":-5.24,"y":0.188},{"p":"13+","s":"f","x":-5.05,"y":0.097},{"p":"13+","s":"f","x":-4.86,"y":0.042},{"p":"13+","s":"f","x":-4.72,"y":0.024},
{"p":"13+","s":"a","x":-8.97,"y":-0.015},{"p":"13+","s":"a","x":-8.83,"y":-0.004},{"p":"13+","s":"a","x":-8.64,"y":0.033},{"p":"13+","s":"a","x":-8.45,"y":0.097},{"p":"13+","s":"a","x":-8.26,"y":0.206},{"p":"13+","s":"a","x":-8.07,"y":0.37},{"p":"13+","s":"a","x":-7.88,"y":0.552},{"p":"13+","s":"a","x":-7.7,"y":0.716},{"p":"13+","s":"a","x":-7.58,"y":0.765},{"p":"13+","s":"a","x":-7.48,"y":0.78},{"p":"13+","s":"a","x":-7.35,"y":0.76},{"p":"13+","s":"a","x":-7.22,"y":0.698},{"p":"13+","s":"a","x":-7.03,"y":0.515},{"p":"13+","s":"a","x":-6.84,"y":0.333},{"p":"13+","s":"a","x":-6.66,"y":0.188},{"p":"13+","s":"a","x":-6.47,"y":0.078},{"p":"13+","s":"a","x":-6.28,"y":0.015},{"p":"13+","s":"a","x":-6.09,"y":-0.013},{"p":"13+","s":"a","x":-5.95,"y":-0.015},
{"p":"13+","s":"b","x":-7.75,"y":-0.015},{"p":"13+","s":"b","x":-7.6,"y":-0.013},{"p":"13+","s":"b","x":-7.41,"y":0.015},{"p":"13+","s":"b","x":-7.22,"y":0.069},{"p":"13+","s":"b","x":-7.03,"y":0.151},{"p":"13+","s":"b","x":-6.84,"y":0.242},{"p":"13+","s":"b","x":-6.64,"y":0.288},{"p":"13+","s":"b","x":-6.42,"y":0.224},{"p":"13+","s":"b","x":-6.28,"y":0.151},{"p":"13+","s":"b","x":-6.09,"y":0.069},{"p":"13+","s":"b","x":-5.9,"y":0.015},{"p":"13+","s":"b","x":-5.71,"y":-0.013},{"p":"13+","s":"b","x":-5.55,"y":-0.015},
{"p":"13+","s":"c","x":-7.1,"y":-0.015},{"p":"13+","s":"c","x":-6.99,"y":-0.013},{"p":"13+","s":"c","x":-6.84,"y":0.005},{"p":"13+","s":"c","x":-6.66,"y":0.051},{"p":"13+","s":"c","x":-6.47,"y":0.133},{"p":"13+","s":"c","x":-6.28,"y":0.242},{"p":"13+","s":"c","x":-6.09,"y":0.352},{"p":"13+","s":"c","x":-5.9,"y":0.406},{"p":"13+","s":"c","x":-5.71,"y":0.333},{"p":"13+","s":"c","x":-5.52,"y":0.224},{"p":"13+","s":"c","x":-5.33,"y":0.115},{"p":"13+","s":"c","x":-5.14,"y":0.033},{"p":"13+","s":"c","x":-5.0,"y":-0.004},{"p":"13+","s":"c","x":-4.9,"y":-0.012},
{"p":"13+","s":"base","x":-10.57,"y":-0.015},{"p":"13+","s":"base","x":-5.1,"y":-0.015},
{"p":"14+","s":"f","x":-11.53,"y":0.018},{"p":"14+","s":"f","x":-10.04,"y":0.018},{"p":"14+","s":"f","x":-9.47,"y":0.027},{"p":"14+","s":"f","x":-9.09,"y":0.055},{"p":"14+","s":"f","x":-8.81,"y":0.1},{"p":"14+","s":"f","x":-8.62,"y":0.155},{"p":"14+","s":"f","x":-8.43,"y":0.246},{"p":"14+","s":"f","x":-8.24,"y":0.355},{"p":"14+","s":"f","x":-8.1,"y":0.446},{"p":"14+","s":"f","x":-7.96,"y":0.5},{"p":"14+","s":"f","x":-7.72,"y":0.52},{"p":"14+","s":"f","x":-7.49,"y":0.515},{"p":"14+","s":"f","x":-7.2,"y":0.537},{"p":"14+","s":"f","x":-7.02,"y":0.574},{"p":"14+","s":"f","x":-6.83,"y":0.62},{"p":"14+","s":"f","x":-6.64,"y":0.7},{"p":"14+","s":"f","x":-6.5,"y":0.774},{"p":"14+","s":"f","x":-6.36,"y":0.847},{"p":"14+","s":"f","x":-6.26,"y":0.87},{"p":"14+","s":"f","x":-6.15,"y":0.856},{"p":"14+","s":"f","x":-6.02,"y":0.79},{"p":"14+","s":"f","x":-5.88,"y":0.683},{"p":"14+","s":"f","x":-5.74,"y":0.537},{"p":"14+","s":"f","x":-5.6,"y":0.373},{"p":"14+","s":"f","x":-5.46,"y":0.246},{"p":"14+","s":"f","x":-5.32,"y":0.137},{"p":"14+","s":"f","x":-5.13,"y":0.055},{"p":"14+","s":"f","x":-4.94,"y":0.027},{"p":"14+","s":"f","x":-4.75,"y":0.018},
{"p":"14+","s":"a","x":-9.51,"y":-0.025},{"p":"14+","s":"a","x":-9.31,"y":-0.02},{"p":"14+","s":"a","x":-9.11,"y":-0.009},{"p":"14+","s":"a","x":-8.91,"y":0.014},{"p":"14+","s":"a","x":-8.71,"y":0.061},{"p":"14+","s":"a","x":-8.51,"y":0.138},{"p":"14+","s":"a","x":-8.31,"y":0.244},{"p":"14+","s":"a","x":-8.11,"y":0.359},{"p":"14+","s":"a","x":-7.91,"y":0.45},{"p":"14+","s":"a","x":-7.71,"y":0.485},{"p":"14+","s":"a","x":-7.51,"y":0.45},{"p":"14+","s":"a","x":-7.31,"y":0.359},{"p":"14+","s":"a","x":-7.11,"y":0.244},{"p":"14+","s":"a","x":-6.91,"y":0.138},{"p":"14+","s":"a","x":-6.71,"y":0.061},{"p":"14+","s":"a","x":-6.51,"y":0.014},{"p":"14+","s":"a","x":-6.31,"y":-0.009},{"p":"14+","s":"a","x":-6.11,"y":-0.02},{"p":"14+","s":"a","x":-5.91,"y":-0.025},
{"p":"14+","s":"b","x":-8.21,"y":-0.025},{"p":"14+","s":"b","x":-8.01,"y":-0.02},{"p":"14+","s":"b","x":-7.81,"y":-0.008},{"p":"14+","s":"b","x":-7.61,"y":0.021},{"p":"14+","s":"b","x":-7.41,"y":0.076},{"p":"14+","s":"b","x":-7.21,"y":0.153},{"p":"14+","s":"b","x":-7.01,"y":0.225},{"p":"14+","s":"b","x":-6.81,"y":0.255},{"p":"14+","s":"b","x":-6.61,"y":0.225},{"p":"14+","s":"b","x":-6.41,"y":0.153},{"p":"14+","s":"b","x":-6.21,"y":0.076},{"p":"14+","s":"b","x":-6.01,"y":0.021},{"p":"14+","s":"b","x":-5.81,"y":-0.008},{"p":"14+","s":"b","x":-5.61,"y":-0.02},{"p":"14+","s":"b","x":-5.41,"y":-0.025},
{"p":"14+","s":"c","x":-7.86,"y":-0.025},{"p":"14+","s":"c","x":-7.66,"y":-0.019},{"p":"14+","s":"c","x":-7.46,"y":-0.002},{"p":"14+","s":"c","x":-7.26,"y":0.043},{"p":"14+","s":"c","x":-7.06,"y":0.14},{"p":"14+","s":"c","x":-6.86,"y":0.304},{"p":"14+","s":"c","x":-6.66,"y":0.514},{"p":"14+","s":"c","x":-6.46,"y":0.7},{"p":"14+","s":"c","x":-6.36,"y":0.756},{"p":"14+","s":"c","x":-6.26,"y":0.775},{"p":"14+","s":"c","x":-6.16,"y":0.756},{"p":"14+","s":"c","x":-6.06,"y":0.7},{"p":"14+","s":"c","x":-5.86,"y":0.514},{"p":"14+","s":"c","x":-5.66,"y":0.304},{"p":"14+","s":"c","x":-5.46,"y":0.13},{"p":"14+","s":"c","x":-5.28,"y":0.02},
{"p":"14+","s":"base","x":-10.8,"y":-0.025},{"p":"14+","s":"base","x":-5.28,"y":-0.025},
{"p":"15+","s":"f","x":-11.53,"y":0.005},{"p":"15+","s":"f","x":-10.28,"y":0.005},{"p":"15+","s":"f","x":-9.53,"y":0.015},{"p":"15+","s":"f","x":-9.15,"y":0.042},{"p":"15+","s":"f","x":-8.87,"y":0.088},{"p":"15+","s":"f","x":-8.58,"y":0.133},{"p":"15+","s":"f","x":-8.3,"y":0.16},{"p":"15+","s":"f","x":-8.02,"y":0.179},{"p":"15+","s":"f","x":-7.73,"y":0.197},{"p":"15+","s":"f","x":-7.54,"y":0.234},{"p":"15+","s":"f","x":-7.35,"y":0.297},{"p":"15+","s":"f","x":-7.17,"y":0.425},{"p":"15+","s":"f","x":-6.98,"y":0.608},{"p":"15+","s":"f","x":-6.79,"y":0.754},{"p":"15+","s":"f","x":-6.6,"y":0.881},{"p":"15+","s":"f","x":-6.46,"y":0.927},{"p":"15+","s":"f","x":-6.27,"y":0.951},{"p":"15+","s":"f","x":-6.13,"y":0.927},{"p":"15+","s":"f","x":-5.99,"y":0.863},{"p":"15+","s":"f","x":-5.84,"y":0.754},{"p":"15+","s":"f","x":-5.7,"y":0.608},{"p":"15+","s":"f","x":-5.56,"y":0.462},{"p":"15+","s":"f","x":-5.42,"y":0.316},{"p":"15+","s":"f","x":-5.28,"y":0.188},{"p":"15+","s":"f","x":-5.14,"y":0.097},{"p":"15+","s":"f","x":-5.0,"y":0.042},{"p":"15+","s":"f","x":-4.85,"y":0.015},{"p":"15+","s":"f","x":-4.72,"y":0.008},
{"p":"15+","s":"a","x":-9.47,"y":-0.023},{"p":"15+","s":"a","x":-9.27,"y":-0.016},{"p":"15+","s":"a","x":-9.07,"y":-0.006},{"p":"15+","s":"a","x":-8.87,"y":0.01},{"p":"15+","s":"a","x":-8.67,"y":0.037},{"p":"15+","s":"a","x":-8.47,"y":0.07},{"p":"15+","s":"a","x":-8.27,"y":0.105},{"p":"15+","s":"a","x":-8.07,"y":0.132},{"p":"15+","s":"a","x":-7.87,"y":0.142},{"p":"15+","s":"a","x":-7.67,"y":0.132},{"p":"15+","s":"a","x":-7.47,"y":0.105},{"p":"15+","s":"a","x":-7.27,"y":0.07},{"p":"15+","s":"a","x":-7.07,"y":0.037},{"p":"15+","s":"a","x":-6.87,"y":0.01},{"p":"15+","s":"a","x":-6.67,"y":-0.006},{"p":"15+","s":"a","x":-6.47,"y":-0.016},{"p":"15+","s":"a","x":-6.27,"y":-0.023},
{"p":"15+","s":"b","x":-7.78,"y":-0.023},{"p":"15+","s":"b","x":-7.63,"y":-0.016},{"p":"15+","s":"b","x":-7.48,"y":0.0},{"p":"15+","s":"b","x":-7.33,"y":0.04},{"p":"15+","s":"b","x":-7.18,"y":0.121},{"p":"15+","s":"b","x":-7.03,"y":0.251},{"p":"15+","s":"b","x":-6.88,"y":0.411},{"p":"15+","s":"b","x":-6.73,"y":0.549},{"p":"15+","s":"b","x":-6.58,"y":0.604},{"p":"15+","s":"b","x":-6.43,"y":0.549},{"p":"15+","s":"b","x":-6.28,"y":0.411},{"p":"15+","s":"b","x":-6.13,"y":0.251},{"p":"15+","s":"b","x":-5.98,"y":0.121},{"p":"15+","s":"b","x":-5.83,"y":0.04},{"p":"15+","s":"b","x":-5.68,"y":0.0},{"p":"15+","s":"b","x":-5.53,"y":-0.016},{"p":"15+","s":"b","x":-5.38,"y":-0.023},
{"p":"15+","s":"c","x":-7.25,"y":-0.023},{"p":"15+","s":"c","x":-7.1,"y":-0.015},{"p":"15+","s":"c","x":-6.95,"y":0.004},{"p":"15+","s":"c","x":-6.8,"y":0.052},{"p":"15+","s":"c","x":-6.65,"y":0.147},{"p":"15+","s":"c","x":-6.5,"y":0.3},{"p":"15+","s":"c","x":-6.35,"y":0.489},{"p":"15+","s":"c","x":-6.2,"y":0.652},{"p":"15+","s":"c","x":-6.05,"y":0.717},{"p":"15+","s":"c","x":-5.9,"y":0.652},{"p":"15+","s":"c","x":-5.75,"y":0.489},{"p":"15+","s":"c","x":-5.6,"y":0.3},{"p":"15+","s":"c","x":-5.45,"y":0.147},{"p":"15+","s":"c","x":-5.3,"y":0.052},{"p":"15+","s":"c","x":-5.15,"y":0.004},
{"p":"15+","s":"base","x":-10.66,"y":-0.023},{"p":"15+","s":"base","x":-5.14,"y":-0.023},
{"p":"16+","s":"f","x":-11.53,"y":0.027},{"p":"16+","s":"f","x":-10.28,"y":0.033},{"p":"16+","s":"f","x":-9.53,"y":0.04},{"p":"16+","s":"f","x":-8.96,"y":0.055},{"p":"16+","s":"f","x":-8.58,"y":0.067},{"p":"16+","s":"f","x":-8.2,"y":0.064},{"p":"16+","s":"f","x":-7.83,"y":0.055},{"p":"16+","s":"f","x":-7.54,"y":0.073},{"p":"16+","s":"f","x":-7.36,"y":0.146},{"p":"16+","s":"f","x":-7.17,"y":0.31},{"p":"16+","s":"f","x":-6.98,"y":0.492},{"p":"16+","s":"f","x":-6.79,"y":0.638},{"p":"16+","s":"f","x":-6.6,"y":0.72},{"p":"16+","s":"f","x":-6.41,"y":0.747},{"p":"16+","s":"f","x":-6.22,"y":0.674},{"p":"16+","s":"f","x":-6.03,"y":0.546},{"p":"16+","s":"f","x":-5.84,"y":0.419},{"p":"16+","s":"f","x":-5.66,"y":0.291},{"p":"16+","s":"f","x":-5.47,"y":0.182},{"p":"16+","s":"f","x":-5.28,"y":0.109},{"p":"16+","s":"f","x":-5.09,"y":0.064},{"p":"16+","s":"f","x":-4.9,"y":0.036},{"p":"16+","s":"f","x":-4.71,"y":0.027},
{"p":"16+","s":"a","x":-7.79,"y":-0.017},{"p":"16+","s":"a","x":-7.59,"y":-0.01},{"p":"16+","s":"a","x":-7.39,"y":0.012},{"p":"16+","s":"a","x":-7.19,"y":0.072},{"p":"16+","s":"a","x":-6.99,"y":0.196},{"p":"16+","s":"a","x":-6.79,"y":0.38},{"p":"16+","s":"a","x":-6.59,"y":0.561},{"p":"16+","s":"a","x":-6.49,"y":0.618},{"p":"16+","s":"a","x":-6.39,"y":0.638},{"p":"16+","s":"a","x":-6.29,"y":0.618},{"p":"16+","s":"a","x":-6.19,"y":0.561},{"p":"16+","s":"a","x":-5.99,"y":0.38},{"p":"16+","s":"a","x":-5.79,"y":0.196},{"p":"16+","s":"a","x":-5.59,"y":0.072},{"p":"16+","s":"a","x":-5.39,"y":0.012},{"p":"16+","s":"a","x":-5.19,"y":-0.01},{"p":"16+","s":"a","x":-4.99,"y":-0.017},
{"p":"16+","s":"b","x":-9.64,"y":-0.017},{"p":"16+","s":"b","x":-9.44,"y":-0.015},{"p":"16+","s":"b","x":-9.24,"y":-0.0105},{"p":"16+","s":"b","x":-9.04,"y":-0.001},{"p":"16+","s":"b","x":-8.84,"y":0.012},{"p":"16+","s":"b","x":-8.64,"y":0.025},{"p":"16+","s":"b","x":-8.44,"y":0.031},{"p":"16+","s":"b","x":-8.24,"y":0.025},{"p":"16+","s":"b","x":-8.04,"y":0.012},{"p":"16+","s":"b","x":-7.84,"y":-0.001},{"p":"16+","s":"b","x":-7.64,"y":-0.0105},{"p":"16+","s":"b","x":-7.44,"y":-0.015},{"p":"16+","s":"b","x":-7.24,"y":-0.017},
{"p":"16+","s":"c","x":-6.36,"y":-0.017},{"p":"16+","s":"c","x":-6.21,"y":-0.01},{"p":"16+","s":"c","x":-6.06,"y":0.007},{"p":"16+","s":"c","x":-5.91,"y":0.043},{"p":"16+","s":"c","x":-5.76,"y":0.086},{"p":"16+","s":"c","x":-5.61,"y":0.106},{"p":"16+","s":"c","x":-5.46,"y":0.086},{"p":"16+","s":"c","x":-5.31,"y":0.043},{"p":"16+","s":"c","x":-5.16,"y":0.007},{"p":"16+","s":"c","x":-4.99,"y":-0.011},
{"p":"16+","s":"base","x":-10.71,"y":-0.017},{"p":"16+","s":"base","x":-4.99,"y":-0.017},
{"p":"17+","s":"f","x":-11.53,"y":0.003},{"p":"17+","s":"f","x":-7.45,"y":0.003},{"p":"17+","s":"f","x":-7.26,"y":0.033},{"p":"17+","s":"f","x":-7.07,"y":0.106},{"p":"17+","s":"f","x":-6.88,"y":0.252},{"p":"17+","s":"f","x":-6.69,"y":0.471},{"p":"17+","s":"f","x":-6.5,"y":0.69},{"p":"17+","s":"f","x":-6.32,"y":0.818},{"p":"17+","s":"f","x":-6.2,"y":0.852},{"p":"17+","s":"f","x":-6.1,"y":0.86},{"p":"17+","s":"f","x":-5.94,"y":0.818},{"p":"17+","s":"f","x":-5.75,"y":0.672},{"p":"17+","s":"f","x":-5.56,"y":0.471},{"p":"17+","s":"f","x":-5.37,"y":0.27},{"p":"17+","s":"f","x":-5.18,"y":0.124},{"p":"17+","s":"f","x":-4.99,"y":0.051},{"p":"17+","s":"f","x":-4.81,"y":0.011},{"p":"17+","s":"f","x":-4.71,"y":0.003}
]
},
"spacing": 1,
"vconcat": [
{"hconcat": [
 {"width": 245, "height": 189.4, "resolve": {"axis": {"x": "independent", "y": "independent"}}, "layer": [
  {"data": {"name": "crv"}, "transform": [{"filter": "datum.p == '10+' && datum.s != 'f'"}], "mark": {"type": "line", "interpolate": "monotone", "strokeWidth": 1.7, "color": "black"}, "encoding": {"x": {"field": "x", "type": "quantitative", "scale": {"domain": [-11.53, -4.6], "nice": false, "zero": false}, "axis": null}, "y": {"field": "y", "type": "quantitative", "scale": {"domain": [-0.035, 1], "nice": false, "zero": false}, "axis": null}, "detail": {"field": "s"}}},
  {"data": {"name": "crv"}, "transform": [{"filter": "datum.p == '10+' && datum.s == 'f'"}], "mark": {"type": "line", "interpolate": "monotone", "strokeWidth": 3, "color": "black"}, "encoding": {"x": {"field": "x", "type": "quantitative", "scale": {"domain": [-11.53, -4.6], "nice": false, "zero": false}, "axis": {"orient": "bottom", "values": [-11.5,-11.25,-11,-10.75,-10.5,-10.25,-10,-9.75,-9.5,-9.25,-9,-8.75,-8.5,-8.25,-8,-7.75,-7.5,-7.25,-7,-6.75,-6.5,-6.25,-6,-5.75,-5.5,-5.25,-5,-4.75], "tickSize": 13, "labels": false, "domain": false, "title": null}}, "y": {"field": "y", "type": "quantitative", "scale": {"domain": [-0.035, 1], "nice": false, "zero": false}, "axis": {"orient": "left", "values": [0,0.0625,0.125,0.1875,0.25,0.3125,0.375,0.4375,0.5,0.5625,0.625,0.6875,0.75,0.8125,0.875,0.9375,1], "tickSize": 13, "labels": false, "domain": false, "title": null}}}},
  {"data": {"name": "pts"}, "transform": [{"filter": "datum.p == '10+'"}], "mark": {"type": "circle", "size": 24, "opacity": 1, "color": "black"}, "encoding": {"x": {"field": "x", "type": "quantitative", "scale": {"domain": [-11.53, -4.6], "nice": false, "zero": false}, "axis": {"orient": "bottom", "values": [-11,-10,-9,-8,-7,-6,-5], "tickSize": 22, "labels": false, "title": null}}, "y": {"field": "y", "type": "quantitative", "scale": {"domain": [-0.035, 1], "nice": false, "zero": false}, "axis": {"orient": "left", "values": [0,0.5,1], "tickSize": 22, "labelPadding": 2, "labelExpr": "'' + datum.value", "title": null}}}},
  {"data": {"values": [{"t": "10+"}]}, "mark": {"type": "text", "fontSize": 21, "align": "center", "baseline": "middle", "color": "black"}, "encoding": {"x": {"datum": -10.07, "type": "quantitative", "scale": {"domain": [-11.53, -4.6], "nice": false, "zero": false}, "axis": null}, "y": {"datum": 0.776, "type": "quantitative", "scale": {"domain": [-0.035, 1], "nice": false, "zero": false}, "axis": null}, "text": {"field": "t"}}}
 ]},
 {"width": 245, "height": 189.4, "resolve": {"axis": {"x": "independent", "y": "independent"}}, "layer": [
  {"data": {"name": "crv"}, "transform": [{"filter": "datum.p == '14+' && datum.s != 'f'"}], "mark": {"type": "line", "interpolate": "monotone", "strokeWidth": 1.7, "color": "black"}, "encoding": {"x": {"field": "x", "type": "quantitative", "scale": {"domain": [-11.53, -4.6], "nice": false, "zero": false}, "axis": null}, "y": {"field": "y", "type": "quantitative", "scale": {"domain": [-0.035, 1], "nice": false, "zero": false}, "axis": null}, "detail": {"field": "s"}}},
  {"data": {"name": "crv"}, "transform": [{"filter": "datum.p == '14+' && datum.s == 'f'"}], "mark": {"type": "line", "interpolate": "monotone", "strokeWidth": 3, "color": "black"}, "encoding": {"x": {"field": "x", "type": "quantitative", "scale": {"domain": [-11.53, -4.6], "nice": false, "zero": false}, "axis": {"orient": "bottom", "values": [-11.5,-11.25,-11,-10.75,-10.5,-10.25,-10,-9.75,-9.5,-9.25,-9,-8.75,-8.5,-8.25,-8,-7.75,-7.5,-7.25,-7,-6.75,-6.5,-6.25,-6,-5.75,-5.5,-5.25,-5,-4.75], "tickSize": 13, "labels": false, "domain": false, "title": null}}, "y": {"field": "y", "type": "quantitative", "scale": {"domain": [-0.035, 1], "nice": false, "zero": false}, "axis": {"orient": "left", "values": [0,0.0625,0.125,0.1875,0.25,0.3125,0.375,0.4375,0.5,0.5625,0.625,0.6875,0.75,0.8125,0.875,0.9375,1], "tickSize": 13, "labels": false, "domain": false, "title": null}}}},
  {"data": {"name": "pts"}, "transform": [{"filter": "datum.p == '14+'"}], "mark": {"type": "circle", "size": 24, "opacity": 1, "color": "black"}, "encoding": {"x": {"field": "x", "type": "quantitative", "scale": {"domain": [-11.53, -4.6], "nice": false, "zero": false}, "axis": {"orient": "bottom", "values": [-11,-10,-9,-8,-7,-6,-5], "tickSize": 22, "labels": false, "title": null}}, "y": {"field": "y", "type": "quantitative", "scale": {"domain": [-0.035, 1], "nice": false, "zero": false}, "axis": {"orient": "left", "values": [0,0.5,1], "tickSize": 22, "labelPadding": 2, "labelExpr": "'' + datum.value", "title": null}}}},
  {"data": {"values": [{"t": "14+"}]}, "mark": {"type": "text", "fontSize": 21, "align": "center", "baseline": "middle", "color": "black"}, "encoding": {"x": {"datum": -9.98, "type": "quantitative", "scale": {"domain": [-11.53, -4.6], "nice": false, "zero": false}, "axis": null}, "y": {"datum": 0.763, "type": "quantitative", "scale": {"domain": [-0.035, 1], "nice": false, "zero": false}, "axis": null}, "text": {"field": "t"}}}
 ]}
], "spacing": 30},
{"spacing": -9, "vconcat": [
{"hconcat": [
 {"width": 245, "height": 189.4, "resolve": {"axis": {"x": "independent", "y": "independent"}}, "layer": [
  {"data": {"name": "crv"}, "transform": [{"filter": "datum.p == '11+' && datum.s != 'f'"}], "mark": {"type": "line", "interpolate": "monotone", "strokeWidth": 1.7, "color": "black"}, "encoding": {"x": {"field": "x", "type": "quantitative", "scale": {"domain": [-11.53, -4.6], "nice": false, "zero": false}, "axis": null}, "y": {"field": "y", "type": "quantitative", "scale": {"domain": [-0.035, 1], "nice": false, "zero": false}, "axis": null}, "detail": {"field": "s"}}},
  {"data": {"name": "crv"}, "transform": [{"filter": "datum.p == '11+' && datum.s == 'f'"}], "mark": {"type": "line", "interpolate": "monotone", "strokeWidth": 3, "color": "black"}, "encoding": {"x": {"field": "x", "type": "quantitative", "scale": {"domain": [-11.53, -4.6], "nice": false, "zero": false}, "axis": {"orient": "bottom", "values": [-11.5,-11.25,-11,-10.75,-10.5,-10.25,-10,-9.75,-9.5,-9.25,-9,-8.75,-8.5,-8.25,-8,-7.75,-7.5,-7.25,-7,-6.75,-6.5,-6.25,-6,-5.75,-5.5,-5.25,-5,-4.75], "tickSize": 13, "labels": false, "domain": false, "title": null}}, "y": {"field": "y", "type": "quantitative", "scale": {"domain": [-0.035, 1], "nice": false, "zero": false}, "axis": {"orient": "left", "values": [0,0.0625,0.125,0.1875,0.25,0.3125,0.375,0.4375,0.5,0.5625,0.625,0.6875,0.75,0.8125,0.875,0.9375,1], "tickSize": 13, "labels": false, "domain": false, "title": null}}}},
  {"data": {"name": "pts"}, "transform": [{"filter": "datum.p == '11+'"}], "mark": {"type": "circle", "size": 24, "opacity": 1, "color": "black"}, "encoding": {"x": {"field": "x", "type": "quantitative", "scale": {"domain": [-11.53, -4.6], "nice": false, "zero": false}, "axis": {"orient": "bottom", "values": [-11,-10,-9,-8,-7,-6,-5], "tickSize": 22, "labels": false, "title": null}}, "y": {"field": "y", "type": "quantitative", "scale": {"domain": [-0.035, 1], "nice": false, "zero": false}, "axis": {"orient": "left", "values": [0,0.5,1], "tickSize": 22, "labelPadding": 2, "labelExpr": "'' + datum.value", "title": null}}}},
  {"data": {"values": [{"t": "11+"}]}, "mark": {"type": "text", "fontSize": 21, "align": "center", "baseline": "middle", "color": "black"}, "encoding": {"x": {"datum": -10.07, "type": "quantitative", "scale": {"domain": [-11.53, -4.6], "nice": false, "zero": false}, "axis": null}, "y": {"datum": 0.69, "type": "quantitative", "scale": {"domain": [-0.035, 1], "nice": false, "zero": false}, "axis": null}, "text": {"field": "t"}}}
 ]},
 {"width": 245, "height": 189.4, "resolve": {"axis": {"x": "independent", "y": "independent"}}, "layer": [
  {"data": {"name": "crv"}, "transform": [{"filter": "datum.p == '15+' && datum.s != 'f'"}], "mark": {"type": "line", "interpolate": "monotone", "strokeWidth": 1.7, "color": "black"}, "encoding": {"x": {"field": "x", "type": "quantitative", "scale": {"domain": [-11.53, -4.6], "nice": false, "zero": false}, "axis": null}, "y": {"field": "y", "type": "quantitative", "scale": {"domain": [-0.035, 1], "nice": false, "zero": false}, "axis": null}, "detail": {"field": "s"}}},
  {"data": {"name": "crv"}, "transform": [{"filter": "datum.p == '15+' && datum.s == 'f'"}], "mark": {"type": "line", "interpolate": "monotone", "strokeWidth": 3, "color": "black"}, "encoding": {"x": {"field": "x", "type": "quantitative", "scale": {"domain": [-11.53, -4.6], "nice": false, "zero": false}, "axis": {"orient": "bottom", "values": [-11.5,-11.25,-11,-10.75,-10.5,-10.25,-10,-9.75,-9.5,-9.25,-9,-8.75,-8.5,-8.25,-8,-7.75,-7.5,-7.25,-7,-6.75,-6.5,-6.25,-6,-5.75,-5.5,-5.25,-5,-4.75], "tickSize": 13, "labels": false, "domain": false, "title": null}}, "y": {"field": "y", "type": "quantitative", "scale": {"domain": [-0.035, 1], "nice": false, "zero": false}, "axis": {"orient": "left", "values": [0,0.0625,0.125,0.1875,0.25,0.3125,0.375,0.4375,0.5,0.5625,0.625,0.6875,0.75,0.8125,0.875,0.9375,1], "tickSize": 13, "labels": false, "domain": false, "title": null}}}},
  {"data": {"name": "pts"}, "transform": [{"filter": "datum.p == '15+'"}], "mark": {"type": "circle", "size": 24, "opacity": 1, "color": "black"}, "encoding": {"x": {"field": "x", "type": "quantitative", "scale": {"domain": [-11.53, -4.6], "nice": false, "zero": false}, "axis": {"orient": "bottom", "values": [-11,-10,-9,-8,-7,-6,-5], "tickSize": 22, "labels": false, "title": null}}, "y": {"field": "y", "type": "quantitative", "scale": {"domain": [-0.035, 1], "nice": false, "zero": false}, "axis": {"orient": "left", "values": [0,0.5,1], "tickSize": 22, "labelPadding": 2, "labelExpr": "'' + datum.value", "title": null}}}},
  {"data": {"values": [{"t": "15+"}]}, "mark": {"type": "text", "fontSize": 21, "align": "center", "baseline": "middle", "color": "black"}, "encoding": {"x": {"datum": -9.87, "type": "quantitative", "scale": {"domain": [-11.53, -4.6], "nice": false, "zero": false}, "axis": null}, "y": {"datum": 0.69, "type": "quantitative", "scale": {"domain": [-0.035, 1], "nice": false, "zero": false}, "axis": null}, "text": {"field": "t"}}}
 ]}
], "spacing": 30},
{"hconcat": [
 {"width": 245, "height": 189.4, "resolve": {"axis": {"x": "independent", "y": "independent"}}, "layer": [
  {"data": {"name": "crv"}, "transform": [{"filter": "datum.p == '12+' && datum.s != 'f'"}], "mark": {"type": "line", "interpolate": "monotone", "strokeWidth": 1.7, "color": "black"}, "encoding": {"x": {"field": "x", "type": "quantitative", "scale": {"domain": [-11.53, -4.6], "nice": false, "zero": false}, "axis": null}, "y": {"field": "y", "type": "quantitative", "scale": {"domain": [-0.035, 1], "nice": false, "zero": false}, "axis": null}, "detail": {"field": "s"}}},
  {"data": {"name": "crv"}, "transform": [{"filter": "datum.p == '12+' && datum.s == 'f'"}], "mark": {"type": "line", "interpolate": "monotone", "strokeWidth": 3, "color": "black"}, "encoding": {"x": {"field": "x", "type": "quantitative", "scale": {"domain": [-11.53, -4.6], "nice": false, "zero": false}, "axis": {"orient": "bottom", "values": [-11.5,-11.25,-11,-10.75,-10.5,-10.25,-10,-9.75,-9.5,-9.25,-9,-8.75,-8.5,-8.25,-8,-7.75,-7.5,-7.25,-7,-6.75,-6.5,-6.25,-6,-5.75,-5.5,-5.25,-5,-4.75], "tickSize": 13, "labels": false, "domain": false, "title": null}}, "y": {"field": "y", "type": "quantitative", "scale": {"domain": [-0.035, 1], "nice": false, "zero": false}, "axis": {"orient": "left", "values": [0,0.0625,0.125,0.1875,0.25,0.3125,0.375,0.4375,0.5,0.5625,0.625,0.6875,0.75,0.8125,0.875,0.9375,1], "tickSize": 13, "labels": false, "domain": false, "title": null}}}},
  {"data": {"name": "pts"}, "transform": [{"filter": "datum.p == '12+'"}], "mark": {"type": "circle", "size": 24, "opacity": 1, "color": "black"}, "encoding": {"x": {"field": "x", "type": "quantitative", "scale": {"domain": [-11.53, -4.6], "nice": false, "zero": false}, "axis": {"orient": "bottom", "values": [-11,-10,-9,-8,-7,-6,-5], "tickSize": 22, "labels": false, "title": null}}, "y": {"field": "y", "type": "quantitative", "scale": {"domain": [-0.035, 1], "nice": false, "zero": false}, "axis": {"orient": "left", "values": [0,0.5,1], "tickSize": 22, "labelPadding": 2, "labelExpr": "'' + datum.value", "title": null}}}},
  {"data": {"values": [{"t": "12+"}]}, "mark": {"type": "text", "fontSize": 21, "align": "center", "baseline": "middle", "color": "black"}, "encoding": {"x": {"datum": -10.07, "type": "quantitative", "scale": {"domain": [-11.53, -4.6], "nice": false, "zero": false}, "axis": null}, "y": {"datum": 0.71, "type": "quantitative", "scale": {"domain": [-0.035, 1], "nice": false, "zero": false}, "axis": null}, "text": {"field": "t"}}}
 ]},
 {"width": 245, "height": 189.4, "resolve": {"axis": {"x": "independent", "y": "independent"}}, "layer": [
  {"data": {"name": "crv"}, "transform": [{"filter": "datum.p == '16+' && datum.s != 'f'"}], "mark": {"type": "line", "interpolate": "monotone", "strokeWidth": 1.7, "color": "black"}, "encoding": {"x": {"field": "x", "type": "quantitative", "scale": {"domain": [-11.53, -4.6], "nice": false, "zero": false}, "axis": null}, "y": {"field": "y", "type": "quantitative", "scale": {"domain": [-0.035, 1], "nice": false, "zero": false}, "axis": null}, "detail": {"field": "s"}}},
  {"data": {"name": "crv"}, "transform": [{"filter": "datum.p == '16+' && datum.s == 'f'"}], "mark": {"type": "line", "interpolate": "monotone", "strokeWidth": 3, "color": "black"}, "encoding": {"x": {"field": "x", "type": "quantitative", "scale": {"domain": [-11.53, -4.6], "nice": false, "zero": false}, "axis": {"orient": "bottom", "values": [-11.5,-11.25,-11,-10.75,-10.5,-10.25,-10,-9.75,-9.5,-9.25,-9,-8.75,-8.5,-8.25,-8,-7.75,-7.5,-7.25,-7,-6.75,-6.5,-6.25,-6,-5.75,-5.5,-5.25,-5,-4.75], "tickSize": 13, "labels": false, "domain": false, "title": null}}, "y": {"field": "y", "type": "quantitative", "scale": {"domain": [-0.035, 1], "nice": false, "zero": false}, "axis": {"orient": "left", "values": [0,0.0625,0.125,0.1875,0.25,0.3125,0.375,0.4375,0.5,0.5625,0.625,0.6875,0.75,0.8125,0.875,0.9375,1], "tickSize": 13, "labels": false, "domain": false, "title": null}}}},
  {"data": {"name": "pts"}, "transform": [{"filter": "datum.p == '16+'"}], "mark": {"type": "circle", "size": 24, "opacity": 1, "color": "black"}, "encoding": {"x": {"field": "x", "type": "quantitative", "scale": {"domain": [-11.53, -4.6], "nice": false, "zero": false}, "axis": {"orient": "bottom", "values": [-11,-10,-9,-8,-7,-6,-5], "tickSize": 22, "labels": false, "title": null}}, "y": {"field": "y", "type": "quantitative", "scale": {"domain": [-0.035, 1], "nice": false, "zero": false}, "axis": {"orient": "left", "values": [0,0.5,1], "tickSize": 22, "labelPadding": 2, "labelExpr": "'' + datum.value", "title": null}}}},
  {"data": {"values": [{"t": "16+"}]}, "mark": {"type": "text", "fontSize": 21, "align": "center", "baseline": "middle", "color": "black"}, "encoding": {"x": {"datum": -9.92, "type": "quantitative", "scale": {"domain": [-11.53, -4.6], "nice": false, "zero": false}, "axis": null}, "y": {"datum": 0.71, "type": "quantitative", "scale": {"domain": [-0.035, 1], "nice": false, "zero": false}, "axis": null}, "text": {"field": "t"}}}
 ]}
], "spacing": 30},
{"hconcat": [
 {"width": 245, "height": 189.4, "resolve": {"axis": {"x": "independent", "y": "independent"}}, "layer": [
  {"data": {"name": "crv"}, "transform": [{"filter": "datum.p == '13+' && datum.s != 'f'"}], "mark": {"type": "line", "interpolate": "monotone", "strokeWidth": 1.7, "color": "black"}, "encoding": {"x": {"field": "x", "type": "quantitative", "scale": {"domain": [-11.53, -4.6], "nice": false, "zero": false}, "axis": null}, "y": {"field": "y", "type": "quantitative", "scale": {"domain": [-0.035, 1], "nice": false, "zero": false}, "axis": null}, "detail": {"field": "s"}}},
  {"data": {"name": "crv"}, "transform": [{"filter": "datum.p == '13+' && datum.s == 'f'"}], "mark": {"type": "line", "interpolate": "monotone", "strokeWidth": 3, "color": "black"}, "encoding": {"x": {"field": "x", "type": "quantitative", "scale": {"domain": [-11.53, -4.6], "nice": false, "zero": false}, "axis": {"orient": "bottom", "values": [-11.5,-11.25,-11,-10.75,-10.5,-10.25,-10,-9.75,-9.5,-9.25,-9,-8.75,-8.5,-8.25,-8,-7.75,-7.5,-7.25,-7,-6.75,-6.5,-6.25,-6,-5.75,-5.5,-5.25,-5,-4.75], "tickSize": 13, "labels": false, "domain": false, "title": null}}, "y": {"field": "y", "type": "quantitative", "scale": {"domain": [-0.035, 1], "nice": false, "zero": false}, "axis": {"orient": "left", "values": [0,0.0625,0.125,0.1875,0.25,0.3125,0.375,0.4375,0.5,0.5625,0.625,0.6875,0.75,0.8125,0.875,0.9375,1], "tickSize": 13, "labels": false, "domain": false, "title": null}}}},
  {"data": {"name": "pts"}, "transform": [{"filter": "datum.p == '13+'"}], "mark": {"type": "circle", "size": 24, "opacity": 1, "color": "black"}, "encoding": {"x": {"field": "x", "type": "quantitative", "scale": {"domain": [-11.53, -4.6], "nice": false, "zero": false}, "axis": {"orient": "bottom", "values": [-11,-10,-9,-8,-7,-6,-5], "tickSize": 22, "labelPadding": 8, "labelExpr": "datum.value % 2 == 0 ? '' : '-' + abs(datum.value)", "title": null}}, "y": {"field": "y", "type": "quantitative", "scale": {"domain": [-0.035, 1], "nice": false, "zero": false}, "axis": {"orient": "left", "values": [0,0.5,1], "tickSize": 22, "labelPadding": 2, "labelExpr": "'' + datum.value", "title": null}}}},
  {"data": {"values": [{"t": "13+"}]}, "mark": {"type": "text", "fontSize": 21, "align": "center", "baseline": "middle", "color": "black"}, "encoding": {"x": {"datum": -10.07, "type": "quantitative", "scale": {"domain": [-11.53, -4.6], "nice": false, "zero": false}, "axis": null}, "y": {"datum": 0.71, "type": "quantitative", "scale": {"domain": [-0.035, 1], "nice": false, "zero": false}, "axis": null}, "text": {"field": "t"}}}
 ]},
 {"width": 245, "height": 189.4, "resolve": {"axis": {"x": "independent", "y": "independent"}}, "layer": [
  {"data": {"name": "crv"}, "transform": [{"filter": "datum.p == '17+' && datum.s == 'f'"}], "mark": {"type": "line", "interpolate": "monotone", "strokeWidth": 3, "color": "black"}, "encoding": {"x": {"field": "x", "type": "quantitative", "scale": {"domain": [-11.53, -4.6], "nice": false, "zero": false}, "axis": {"orient": "bottom", "values": [-11.5,-11.25,-11,-10.75,-10.5,-10.25,-10,-9.75,-9.5,-9.25,-9,-8.75,-8.5,-8.25,-8,-7.75,-7.5,-7.25,-7,-6.75,-6.5,-6.25,-6,-5.75,-5.5,-5.25,-5,-4.75], "tickSize": 13, "labels": false, "domain": false, "title": null}}, "y": {"field": "y", "type": "quantitative", "scale": {"domain": [-0.035, 1], "nice": false, "zero": false}, "axis": {"orient": "left", "values": [0,0.0625,0.125,0.1875,0.25,0.3125,0.375,0.4375,0.5,0.5625,0.625,0.6875,0.75,0.8125,0.875,0.9375,1], "tickSize": 13, "labels": false, "domain": false, "title": null}}}},
  {"data": {"name": "pts"}, "transform": [{"filter": "datum.p == '17+'"}], "mark": {"type": "circle", "size": 24, "opacity": 1, "color": "black"}, "encoding": {"x": {"field": "x", "type": "quantitative", "scale": {"domain": [-11.53, -4.6], "nice": false, "zero": false}, "axis": {"orient": "bottom", "values": [-11,-10,-9,-8,-7,-6,-5], "tickSize": 22, "labelPadding": 8, "labelExpr": "datum.value % 2 == 0 ? '' : '-' + abs(datum.value)", "title": "CV", "titleX": -50, "titleY": 61, "titleAlign": "center", "titleBaseline": "middle", "titleAngle": 0}}, "y": {"field": "y", "type": "quantitative", "scale": {"domain": [-0.035, 1], "nice": false, "zero": false}, "axis": {"orient": "left", "values": [0,0.5,1], "tickSize": 22, "labelPadding": 2, "labelExpr": "'' + datum.value", "title": null}}}},
  {"data": {"values": [{"t": "17+"}]}, "mark": {"type": "text", "fontSize": 21, "align": "center", "baseline": "middle", "color": "black"}, "encoding": {"x": {"datum": -9.72, "type": "quantitative", "scale": {"domain": [-11.53, -4.6], "nice": false, "zero": false}, "axis": null}, "y": {"datum": 0.71, "type": "quantitative", "scale": {"domain": [-0.035, 1], "nice": false, "zero": false}, "axis": null}, "text": {"field": "t"}}}
 ]}
], "spacing": 13}
]}
]
}
